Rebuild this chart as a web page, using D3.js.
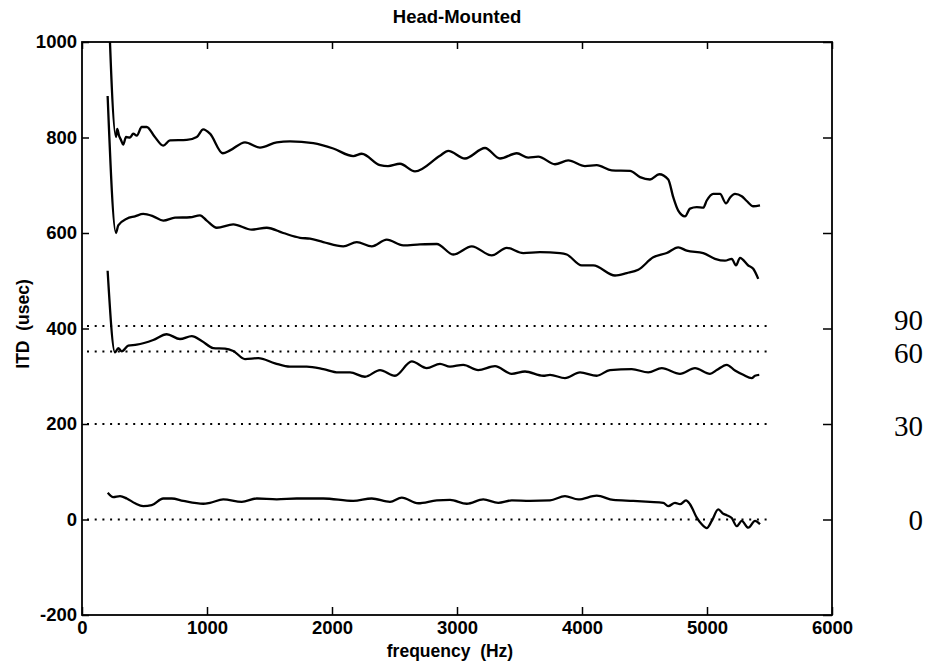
<!DOCTYPE html>
<html>
<head>
    <meta charset="utf-8">
    <title>Head-Mounted ITD</title>
    <script src="https://d3js.org/d3.v7.min.js"></script>
    <style>
        body { margin: 0; background: #fff; }
        .tick text {
            font-family: "Liberation Sans", Arial, Helvetica, sans-serif;
            font-size: 18.5px;
            font-weight: bold;
            fill: #000;
        }
        .tick line { stroke: #000; stroke-width: 1.5px; }
        .lbl {
            font-family: "Liberation Sans", Arial, Helvetica, sans-serif;
            font-size: 17.5px;
            font-weight: bold;
            fill: #000;
        }
        .angle {
            font-family: "Liberation Serif", "Times New Roman", serif;
            font-size: 29px;
            fill: #000;
        }
    </style>
</head>
<body>
    <svg width="931" height="666"></svg>

    <script>
        // axis ticks
        const xTicks = [0, 1000, 2000, 3000, 4000, 5000, 6000];
        const yTicks = [-200, 0, 200, 400, 600, 800, 1000];

        // reference (dotted) ITD levels and their angle labels
        const refLevels = [405, 352, 200, 0];
        const refAngles = ["90", "60", "30", "0"];
        const refLabelY = [330, 363, 436, 530];   // baselines of the angle labels

        // measured ITD curves: [frequency (Hz), ITD (usec)]
        const curveTop = [[205,1135],[272,801],[282,818],[296,804],[312,795],[330,785],[352,801],[384,800],[410,808],
            [438,804],[478,822],[518,822],[580,802],[650,783],[704,794],[838,795],[918,801],[970,817],[1024,808],
            [1126,767],[1184,773],[1304,790],[1424,779],[1558,790],[1664,792],[1850,788],[2010,777],[2170,761],
            [2238,766],[2384,742],[2448,740],[2544,745],[2664,729],[2864,762],[2930,772],[3064,756],[3224,778],
            [3344,756],[3478,767],[3570,758],[3650,760],[3784,744],[3890,752],[4024,740],[4118,742],[4238,731],
            [4384,730],[4464,717],[4544,712],[4618,723],[4690,712],[4730,675],[4770,647],[4824,635],[4864,651],
            [4918,654],[4970,653],[4998,668],[5050,682],[5104,682],[5152,662],[5184,674],[5224,682],[5278,677],
            [5318,667],[5370,656],[5424,658]];

        const curveSecond = [[205,887],[272,600],[290,616],[358,630],[424,635],[490,640],[570,635],[650,626],
            [744,632],[864,633],[944,637],[998,626],[1078,611],[1210,618],[1358,607],[1478,611],[1610,600],
            [1744,590],[1824,588],[1930,581],[2090,572],[2198,581],[2318,572],[2438,586],[2570,574],[2704,576],
            [2838,577],[2970,555],[3118,572],[3278,553],[3398,569],[3530,558],[3664,560],[3824,558],[3878,555],
            [3998,532],[4090,532],[4264,511],[4358,516],[4450,523],[4570,549],[4678,558],[4770,570],[4838,563],
            [4970,558],[5064,546],[5144,542],[5198,546],[5232,532],[5264,548],[5330,532],[5370,525],[5410,504]];

        const curveThird = [[205,521],[264,350],[290,359],[318,352],[370,364],[438,366],[570,376],[678,388],
            [784,378],[878,384],[958,374],[1050,359],[1144,358],[1210,353],[1304,336],[1410,338],[1544,327],
            [1664,320],[1798,320],[1930,315],[2050,308],[2144,308],[2264,299],[2384,313],[2504,301],[2638,331],
            [2758,317],[2864,326],[2944,320],[3050,324],[3170,313],[3304,321],[3438,305],[3544,310],[3690,301],
            [3744,303],[3864,296],[3984,308],[4118,301],[4224,313],[4398,315],[4530,308],[4638,317],[4784,305],
            [4904,317],[5024,305],[5078,313],[5158,324],[5224,312],[5290,303],[5358,296],[5384,301],[5418,303]];

        const curveBottom = [[206,56],[250,47],[304,49],[358,44],[424,34],[490,28],[558,30],[650,44],[718,44],
            [810,39],[970,33],[1024,35],[1130,42],[1278,37],[1398,44],[1558,42],[1718,44],[1930,44],[2170,39],
            [2318,44],[2464,37],[2558,46],[2690,34],[2838,40],[2944,41],[3078,33],[3210,42],[3330,35],[3438,40],
            [3584,39],[3744,40],[3864,49],[3970,42],[4118,50],[4250,41],[4410,39],[4544,37],[4650,35],[4690,28],
            [4744,35],[4784,32],[4832,40],[4864,32],[4918,4],[4958,-10],[4998,-18],[5038,-3],[5090,21],[5130,12],
            [5158,9],[5198,3],[5238,-14],[5278,-3],[5330,-17],[5384,-3],[5424,-10]];

        const curves = [curveTop, curveSecond, curveThird, curveBottom];

        const svg = d3.select("svg");
        const mLeft = 82, mRight = 832, mTop = 42, mBottom = 615;

        const x = d3.scaleLinear().domain([0, 6000]).range([mLeft, mRight]);
        const y = d3.scaleLinear().domain([-200, 1000]).range([mBottom, mTop]);
        const plain = d => String(d);   // no thousands separator, ascii minus

        svg.append("rect").attr("width", 931).attr("height", 666).attr("fill", "#fff");

        svg.append("defs").append("clipPath").attr("id", "plot")
            .append("rect")
            .attr("x", mLeft).attr("y", mTop)
            .attr("width", mRight - mLeft).attr("height", mBottom - mTop);

        // axes, ticks pointing inward like matlab
        svg.append("g")
            .attr("transform", `translate(0,${mBottom})`)
            .call(d3.axisBottom(x).tickValues(xTicks).tickFormat(plain)
                .tickSizeInner(-8).tickSizeOuter(0).tickPadding(6))
            .call(g => g.select(".domain").remove());
        svg.append("g")
            .attr("transform", `translate(0,${mTop})`)
            .call(d3.axisTop(x).tickValues(xTicks).tickSizeInner(-7).tickSizeOuter(0).tickFormat(""))
            .call(g => g.select(".domain").remove());
        svg.append("g")
            .attr("transform", `translate(${mLeft},0)`)
            .call(d3.axisLeft(y).tickValues(yTicks).tickFormat(plain)
                .tickSizeInner(-7).tickSizeOuter(0).tickPadding(5))
            .call(g => g.select(".domain").remove());
        svg.append("g")
            .attr("transform", `translate(${mRight},0)`)
            .call(d3.axisRight(y).tickValues(yTicks).tickSizeInner(-9).tickSizeOuter(0).tickFormat(""))
            .call(g => g.select(".domain").remove());

        svg.append("rect")
            .attr("x", mLeft).attr("y", mTop)
            .attr("width", mRight - mLeft).attr("height", mBottom - mTop)
            .attr("fill", "none").attr("stroke", "#000").attr("stroke-width", 1.8);

        // dotted reference lines
        svg.append("g").selectAll("line")
            .data(refLevels)
            .enter().append("line")
            .attr("x1", x(40)).attr("x2", x(5500))
            .attr("y1", d => y(d)).attr("y2", d => y(d))
            .attr("stroke", "#000")
            .attr("stroke-width", 2)
            .attr("stroke-dasharray", "2,5.7");

        // ITD curves
        const line = d3.line()
            .x(d => x(d[0]))
            .y(d => y(d[1]))
            .curve(d3.curveMonotoneX);

        svg.append("g")
            .attr("clip-path", "url(#plot)")
            .selectAll("path")
            .data(curves)
            .enter().append("path")
            .attr("d", line)
            .attr("fill", "none")
            .attr("stroke", "#000")
            .attr("stroke-width", 2.3)
            .attr("stroke-linejoin", "round");

        // angle labels at the right
        svg.append("g").selectAll("text")
            .data(refAngles)
            .enter().append("text")
            .attr("class", "angle")
            .attr("x", 923)
            .attr("y", (d, i) => refLabelY[i])
            .attr("text-anchor", "end")
            .text(d => d);

        // titles
        svg.append("text")
            .attr("class", "lbl")
            .attr("x", 457).attr("y", 23)
            .attr("text-anchor", "middle")
            .style("font-size", "18.5px")
            .text("Head-Mounted");

        svg.append("text")
            .attr("class", "lbl")
            .attr("x", 450).attr("y", 657)
            .attr("text-anchor", "middle")
            .style("white-space", "pre")
            .text("frequency  (Hz)");

        svg.append("text")
            .attr("class", "lbl")
            .attr("transform", "translate(29,324) rotate(-90)")
            .attr("text-anchor", "middle")
            .style("white-space", "pre")
            .text("ITD  (usec)");
    </script>
</body>
</html>
